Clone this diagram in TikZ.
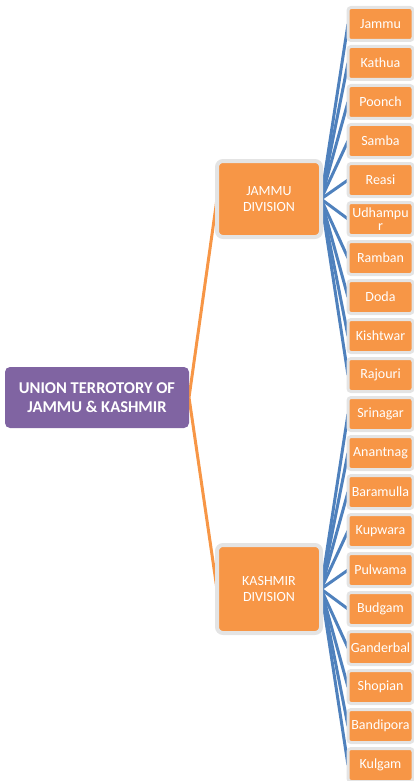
\documentclass[tikz,border=0pt]{standalone}
\usepackage{fontspec}
\setmainfont{Carlito}
\usetikzlibrary{backgrounds}
\definecolor{rootpurple}{HTML}{8064A2}
\definecolor{boxorange}{HTML}{F79646}
\definecolor{linkblue}{HTML}{4F81BD}
\definecolor{rimgray}{RGB}{228,228,228}
\tikzset{
  rootbox/.style={rectangle, fill=rootpurple, rounded corners=5pt, outer sep=0pt,
    minimum width=184pt, minimum height=61pt, inner sep=0pt, text=white, align=center,
    font=\bfseries\fontsize{16.5}{19}\selectfont},
  divbox/.style={rectangle, fill=boxorange, draw=rimgray, line width=4pt, rounded corners=6pt,
    outer sep=0pt, minimum width=104pt, inner sep=0pt, text=white, align=center,
    font=\fontsize{14}{16}\selectfont},
  leafbox/.style={rectangle, fill=boxorange, draw=rimgray, line width=3pt, rounded corners=3pt,
    outer sep=0pt, minimum width=65pt, minimum height=33pt, inner sep=0pt, text=white, align=center,
    font=\fontsize{14}{13.5}\selectfont},
  rootlink/.style={draw=boxorange, line width=3pt},
  leaflink/.style={draw=linkblue, line width=3pt}
}
\begin{document}
\begin{tikzpicture}[x=1pt,y=-1pt]
\useasboundingbox (0,0) rectangle (413,781);
\node[rootbox] (root) at (97,397.5) {UNION TERROTORY OF\\JAMMU \& KASHMIR};
\node[divbox, minimum height=76pt] (jd) at (269,199) {JAMMU\\DIVISION};
\node[divbox, minimum height=88pt] (kd) at (269,589) {KASHMIR\\DIVISION};
\foreach \name [count=\i from 0] in {Jammu,Kathua,Poonch,Samba,Reasi,{Udhampu\\r},Ramban,Doda,Kishtwar,Rajouri}{
  \node[leafbox] (j\i) at (380.5,{24+39*\i}) {\name};
}
\foreach \name [count=\i from 0] in {Srinagar,Anantnag,Baramulla,Kupwara,Pulwama,Budgam,Ganderbal,Shopian,Bandipora,Kulgam}{
  \node[leafbox] (k\i) at (380.5,{414+39*\i}) {\name};
}
\begin{scope}[on background layer]
  \draw[rootlink] (root.east) -- (jd.west);
  \draw[rootlink] (root.east) -- (kd.west);
  \foreach \i in {0,...,9}{
    \draw[leaflink] (jd.east) -- (j\i.west);
    \draw[leaflink] (kd.east) -- (k\i.west);
  }
\end{scope}
\end{tikzpicture}
\end{document}
